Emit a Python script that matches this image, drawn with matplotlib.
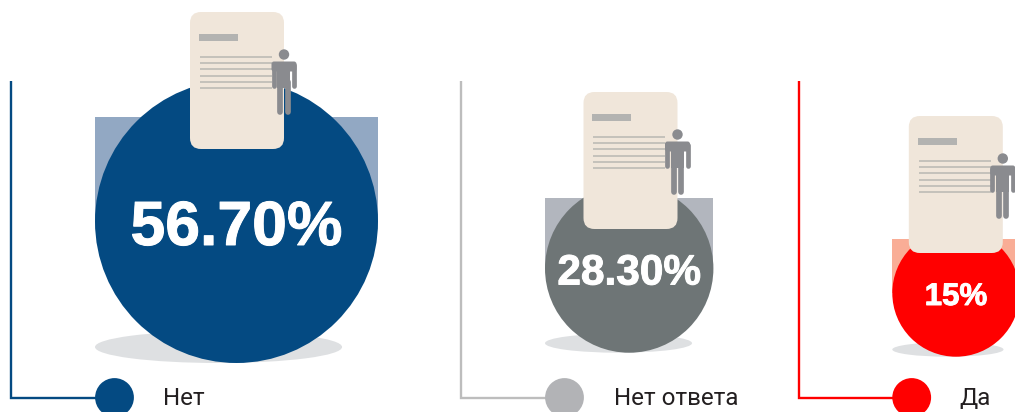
import matplotlib
matplotlib.use('Agg')
import matplotlib.pyplot as plt
import matplotlib.patheffects as pe
from matplotlib.patches import Circle, Ellipse, FancyBboxPatch, Rectangle

categories = ['Нет', 'Нет ответа', 'Да']
shares = [56.7, 28.3, 15]
share_labels = ['56.70%', '28.30%', '15%']

# layout, in pixels of the 1015x412 picture
circle_x = [236.5, 629.2, 956]
circle_bottom = [363, 352.7, 356.7]
radius = [141.5, 84.2, 63.7]
square_top = [117, 198, 239]
doc_left = [190, 583.5, 908.8]
doc_top = [12, 92, 116]
line_x = [11.5, 461.5, 798.7]
key_x = [114.5, 564.5, 911.7]
text_x = [163, 614, 959.5]
label_size = [45, 30.5, 22.5]
label_base = [245, 284.5, 305]

main_colors = ['#044a82', '#6e7576', '#ff0000']
square_colors = ['#92a8c3', '#b2b6be', '#f9ad96']
key_colors = ['#044a82', '#b2b3b6', '#ff0000']
line_colors = ['#044a82', '#bdbdbd', '#ff0000']
paper = '#f0e6da'
shadow = '#dee0e2'
person = '#8a8b8f'


def draw_doc(ax, x, y):
    ax.add_patch(FancyBboxPatch((x + 10, y + 10), 74, 117, boxstyle='round,pad=10,rounding_size=11',
                                fc=paper, ec='none', zorder=5))
    ax.add_patch(Rectangle((x + 9, y + 22), 39, 7, fc='#b3b3b1', ec='none', zorder=6))
    for off in [44.5, 51, 57.3, 63.5, 69.7, 76]:
        ax.plot([x + 10, x + 82], [y + off, y + off], color='#bdbbb5', lw=1.2, zorder=6, solid_capstyle='butt')

    # little man on the right edge of the sheet
    cx = x + 94
    ax.add_patch(Circle((cx, y + 42.5), 5.2, fc=person, ec='none', zorder=7))
    ax.add_patch(FancyBboxPatch((cx - 10.5, y + 51.5), 21, 6, boxstyle='round,pad=2,rounding_size=2.5',
                                fc=person, ec='none', zorder=7))
    ax.add_patch(Rectangle((cx - 6.5, y + 52), 13, 24, fc=person, ec='none', zorder=7))
    for dx in [-10.4, 10.4]:
        ax.plot([cx + dx, cx + dx], [y + 53, y + 73.5], color=person, lw=3.4, zorder=7, solid_capstyle='round')
    for dx in [-3.6, 3.6]:
        ax.plot([cx + dx, cx + dx], [y + 70, y + 100], color=person, lw=4.1, zorder=7, solid_capstyle='round')


fig = plt.figure(figsize=(10.15, 4.12), dpi=100)
ax = fig.add_axes([0, 0, 1, 1])
ax.set_xlim(0, 1015)
ax.set_ylim(412, 0)
ax.axis('off')

for i in range(len(categories)):
    r = radius[i]
    cy = circle_bottom[i] - r
    left = circle_x[i] - r

    ax.add_patch(Rectangle((left, square_top[i]), 2 * r, cy - square_top[i], fc=square_colors[i], ec='none', zorder=1))
    ax.add_patch(Ellipse((left + 0.873 * r, circle_bottom[i] - 0.113 * r), 1.746 * r, 0.226 * r,
                         fc=shadow, ec='none', zorder=2))
    ax.add_patch(Circle((circle_x[i], cy), r, fc=main_colors[i], ec='none', zorder=3))
    t = ax.text(circle_x[i], label_base[i], share_labels[i], color='white', fontsize=label_size[i], fontweight='bold',
                family='Liberation Sans', ha='center', va='baseline', zorder=8)
    t.set_path_effects([pe.withStroke(linewidth=0.7, foreground='white')])
    draw_doc(ax, doc_left[i], doc_top[i])

    ax.plot([line_x[i], line_x[i], key_x[i]], [81, 398, 398], color=line_colors[i], lw=1.7, zorder=2,
            solid_joinstyle='miter', solid_capstyle='butt')
    ax.add_patch(Circle((key_x[i], 397.5), 19.4, fc=key_colors[i], ec='none', zorder=3))
    ax.text(text_x[i], 405, categories[i], color='#231f20', fontsize=17.4, family='Roboto', ha='left', va='baseline')

fig.savefig('out.png', dpi=100)
